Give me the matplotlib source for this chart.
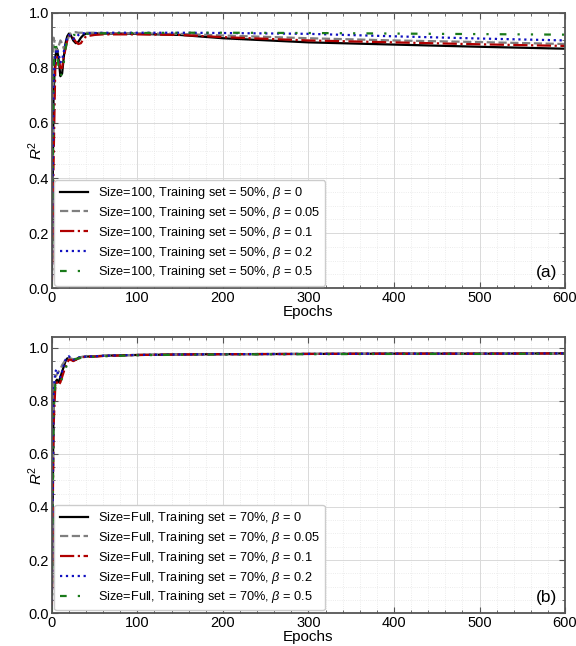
import matplotlib
matplotlib.use("Agg")
import matplotlib.pyplot as plt
from matplotlib.ticker import MultipleLocator

plt.rcParams['font.family'] = ['Liberation Sans', 'DejaVu Sans']
plt.rcParams['mathtext.fontset'] = 'custom'
plt.rcParams['mathtext.rm'] = 'Liberation Sans'
plt.rcParams['mathtext.it'] = 'Liberation Sans:italic'
plt.rcParams['mathtext.bf'] = 'Liberation Sans:bold'

epochs = [0, 2, 4, 6, 8, 10, 12, 14, 16, 18, 20, 22, 25, 28, 31, 34, 37, 40,
          50, 60, 80, 100, 150, 200, 300, 400, 500, 600]

betas = ["0", "0.05", "0.1", "0.2", "0.5"]

# Panel (a): Size=100, Training set = 50%
a_b0 = [0.0, 0.70, 0.84, 0.87, 0.83, 0.77, 0.78, 0.84, 0.89, 0.915, 0.925, 0.92, 0.90, 0.89,
        0.895, 0.91, 0.92, 0.925, 0.926, 0.925, 0.925, 0.924, 0.92, 0.908, 0.893, 0.885, 0.877, 0.870]
a_b005 = [0.0, 0.91, 0.88, 0.86, 0.88, 0.90, 0.89, 0.87, 0.88, 0.90, 0.915, 0.925, 0.93, 0.93,
          0.928, 0.928, 0.928, 0.928, 0.928, 0.927, 0.926, 0.926, 0.924, 0.918, 0.908, 0.90, 0.894, 0.887]
a_b01 = [0.0, 0.45, 0.80, 0.84, 0.83, 0.80, 0.80, 0.84, 0.87, 0.90, 0.915, 0.92, 0.91, 0.895,
         0.887, 0.89, 0.905, 0.915, 0.92, 0.922, 0.922, 0.922, 0.92, 0.912, 0.90, 0.893, 0.886, 0.880]
a_b02 = [0.0, 0.75, 0.85, 0.87, 0.85, 0.82, 0.83, 0.86, 0.89, 0.91, 0.92, 0.915, 0.905, 0.91,
         0.92, 0.925, 0.926, 0.926, 0.927, 0.928, 0.928, 0.928, 0.928, 0.927, 0.924, 0.915, 0.907, 0.900]
a_b05 = [0.0, 0.80, 0.90, 0.86, 0.80, 0.77, 0.78, 0.82, 0.87, 0.90, 0.91, 0.915, 0.92, 0.92,
         0.92, 0.922, 0.923, 0.924, 0.925, 0.926, 0.927, 0.927, 0.928, 0.928, 0.927, 0.925, 0.923, 0.921]

# Panel (b): Size=Full, Training set = 70%
b_b0 = [0.0, 0.80, 0.87, 0.88, 0.87, 0.89, 0.91, 0.93, 0.95, 0.96, 0.962, 0.958, 0.952, 0.955,
        0.962, 0.965, 0.966, 0.967, 0.968, 0.970, 0.972, 0.973, 0.975, 0.976, 0.977, 0.978, 0.978, 0.979]
b_b005 = [0.0, 0.85, 0.89, 0.90, 0.91, 0.92, 0.935, 0.945, 0.955, 0.96, 0.962, 0.96, 0.957, 0.958,
          0.962, 0.965, 0.966, 0.967, 0.968, 0.970, 0.972, 0.973, 0.975, 0.976, 0.977, 0.978, 0.978, 0.979]
b_b01 = [0.0, 0.70, 0.85, 0.87, 0.86, 0.87, 0.89, 0.91, 0.93, 0.945, 0.955, 0.955, 0.95, 0.955,
         0.96, 0.963, 0.965, 0.966, 0.967, 0.969, 0.971, 0.973, 0.975, 0.976, 0.977, 0.978, 0.978, 0.979]
b_b02 = [0.0, 0.83, 0.91, 0.92, 0.89, 0.89, 0.91, 0.935, 0.955, 0.965, 0.968, 0.962, 0.955, 0.958,
         0.963, 0.965, 0.966, 0.967, 0.968, 0.970, 0.972, 0.973, 0.975, 0.976, 0.977, 0.978, 0.978, 0.979]
b_b05 = [0.0, 0.75, 0.86, 0.87, 0.86, 0.87, 0.885, 0.90, 0.92, 0.94, 0.95, 0.955, 0.957, 0.958,
         0.96, 0.962, 0.964, 0.965, 0.966, 0.968, 0.970, 0.972, 0.974, 0.975, 0.976, 0.977, 0.977, 0.978]

series_a = [a_b0, a_b005, a_b01, a_b02, a_b05]
series_b = [b_b0, b_b005, b_b01, b_b02, b_b05]

colors = ['black', '#7f7f7f', '#b00000', '#1010c0', '#1a7a1a']
styles = ['-', '--', '-.', ':', (0, (3, 5, 1, 5, 1, 5))]

fig = plt.figure(figsize=(5.76, 6.46), dpi=100)
ax1 = fig.add_axes([0.090, 0.554, 0.891, 0.426])
ax2 = fig.add_axes([0.090, 0.051, 0.891, 0.427])


def style_axis(ax, ylim_top, tag):
    ax.set_xlim(0, 600)
    ax.set_ylim(0, ylim_top)
    ax.xaxis.set_major_locator(MultipleLocator(100))
    ax.xaxis.set_minor_locator(MultipleLocator(20))
    ax.yaxis.set_major_locator(MultipleLocator(0.2))
    ax.yaxis.set_minor_locator(MultipleLocator(0.05))
    ax.yaxis.set_major_formatter(matplotlib.ticker.FormatStrFormatter('%.1f'))
    ax.grid(which='major', color='#d9d9d9', linewidth=0.7, linestyle='-')
    ax.grid(which='minor', color='#e6e6e6', linewidth=0.6, linestyle=':')
    ax.set_axisbelow(True)
    ax.tick_params(which='both', direction='in', top=True, right=True,
                   labelsize=10.5, color='#555555')
    ax.tick_params(which='major', length=4, pad=2)
    ax.tick_params(which='minor', length=2)
    for s in ax.spines.values():
        s.set_color('#555555')
        s.set_linewidth(1.3)
    ax.set_xlabel('Epochs', fontsize=11, labelpad=0)
    ax.set_ylabel('$R^2$', fontsize=11)
    ax.yaxis.set_label_coords(-0.014, 0.5)
    ax.text(0.984, 0.058, tag, transform=ax.transAxes, ha='right', va='center', fontsize=12.5)


for ax, series, prefix, ytop, tag in [
        (ax1, series_a, 'Size=100, Training set = 50%', 1.0, '(a)'),
        (ax2, series_b, 'Size=Full, Training set = 70%', 1.04, '(b)')]:
    for vals, c, ls, b in zip(series, colors, styles, betas):
        ax.plot(epochs, vals, color=c, linestyle=ls, linewidth=1.6,
                label=f'{prefix}, $\\beta$ = {b}')
    style_axis(ax, ytop, tag)
    leg = ax.legend(loc='lower left', fontsize=9.2, frameon=True, fancybox=True,
                    edgecolor='#cccccc', framealpha=1.0, labelspacing=0.3,
                    handlelength=2.2, borderaxespad=0.2)

fig.savefig('out.png', dpi=100)
